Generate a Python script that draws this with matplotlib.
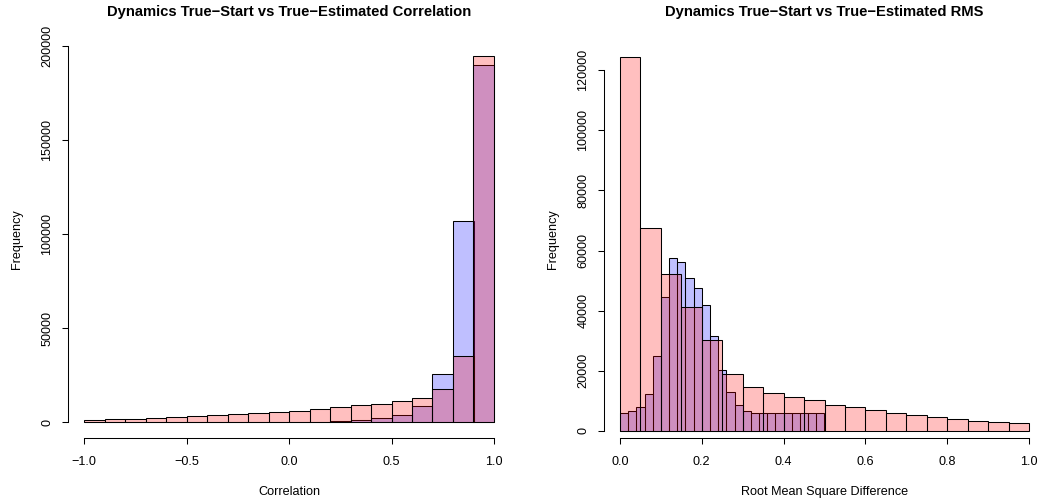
import matplotlib
matplotlib.use("Agg")
import matplotlib.pyplot as plt
import numpy as np

plt.rcParams['font.family'] = ['Liberation Sans', 'DejaVu Sans']

# correlation histograms: 20 bins of 0.1 between -1 and 1
corr_edges = np.round(np.linspace(-1.0, 1.0, 21), 2)
corr_blue = [100, 110, 120, 130, 140, 150, 160, 170, 180, 200, 220, 250, 350, 900,
             2100, 3900, 8500, 25400, 107100, 189900]
corr_red = [1000, 1400, 1800, 2100, 2700, 3200, 3700, 4300, 4800, 5300,
            6000, 6900, 8000, 9000, 9800, 11000, 12600, 17800, 35100, 194700]

# RMS histograms: blue in bins of 0.02 up to 0.5, red in bins of 0.05 up to 1
rms_blue_edges = np.round(np.linspace(0.0, 0.5, 26), 2)
rms_blue = [5900, 6600, 7900, 12200, 24800, 44500, 57400, 56100, 50800, 47400,
            41900, 31600, 20300, 12800, 8500, 6500, 6100, 5900, 5900, 5900,
            5900, 6100, 6000, 5900, 5900]
rms_red_edges = np.round(np.linspace(0.0, 1.0, 21), 2)
rms_red = [124400, 67600, 52100, 41200, 30100, 18800, 14500, 12500, 11400, 10200,
           8700, 8100, 6900, 6000, 5200, 4500, 3900, 3400, 3000, 2800]

corr_xticks = [-1.0, -0.5, 0.0, 0.5, 1.0]
corr_xlabels = ["\u22121.0", "\u22120.5", "0.0", "0.5", "1.0"]
corr_yticks = [0, 50000, 100000, 150000, 200000]
rms_xticks = [0.0, 0.2, 0.4, 0.6, 0.8, 1.0]
rms_xlabels = ["0.0", "0.2", "0.4", "0.6", "0.8", "1.0"]
rms_yticks = [0, 20000, 40000, 60000, 80000, 100000, 120000]

BLUE = (0, 0, 1, 0.25)
RED = (1, 0, 0, 0.25)
W, H = 1039, 500
TXT = 9.1


def r_style_axes(ax, xticks, xlabels, yticks):
    # base-R look: open axes, lines only between first and last tick
    for side in ("top", "right"):
        ax.spines[side].set_visible(False)
    ax.spines["left"].set_bounds(yticks[0], yticks[-1])
    ax.spines["bottom"].set_bounds(xticks[0], xticks[-1])
    for side in ("left", "bottom"):
        ax.spines[side].set_linewidth(0.75)
    ax.set_xticks(xticks, xlabels)
    ax.set_yticks(yticks, [str(v) for v in yticks], rotation=90, va="center")
    ax.tick_params(direction="out", length=4.5, width=0.75, labelsize=TXT)
    ax.tick_params(axis="x", pad=9)
    ax.tick_params(axis="y", pad=5.8)


def hist(ax, edges, counts, color):
    ax.hist(edges[:-1], bins=edges, weights=counts, color=color,
            edgecolor="black", linewidth=0.75)


fig = plt.figure(figsize=(W / 100, H / 100), dpi=100)

# left panel
ax1 = fig.add_axes([67.6 / W, 1 - 437.5 / H, (510.4 - 67.6) / W, (437.5 - 41.3) / H])
hist(ax1, corr_edges, corr_blue, BLUE)
hist(ax1, corr_edges, corr_red, RED)
ax1.set_xlim(-1.08, 1.08)
ax1.set_ylim(-15.5 / 1.88 * 1000, (422 - 41.3) / 1.88 * 1000)
r_style_axes(ax1, corr_xticks, corr_xlabels, corr_yticks)
ax1.set_title("Dynamics True\u2212Start vs True\u2212Estimated Correlation",
              fontweight="bold", fontsize=10.6, pad=18.5)
ax1.set_xlabel("Correlation", fontsize=TXT, labelpad=12.5)
ax1.set_ylabel("Frequency", fontsize=TXT, labelpad=13.5)

# right panel
ax2 = fig.add_axes([603.6 / W, 1 - 437.5 / H, (1045.4 - 603.6) / W, (437.5 - 41.3) / H])
hist(ax2, rms_blue_edges, rms_blue, BLUE)
hist(ax2, rms_red_edges, rms_red, RED)
ax2.set_xlim(-0.04, 1.04)
ax2.set_ylim(-6.5 / 3.008 * 1000, (431 - 41.3) / 3.008 * 1000)
r_style_axes(ax2, rms_xticks, rms_xlabels, rms_yticks)
ax2.set_title("Dynamics True\u2212Start vs True\u2212Estimated RMS",
              fontweight="bold", fontsize=10.6, pad=18.5)
ax2.set_xlabel("Root Mean Square Difference", fontsize=TXT, labelpad=12.5)
ax2.set_ylabel("Frequency", fontsize=TXT, labelpad=13.5)

fig.savefig("out.png", dpi=100)
